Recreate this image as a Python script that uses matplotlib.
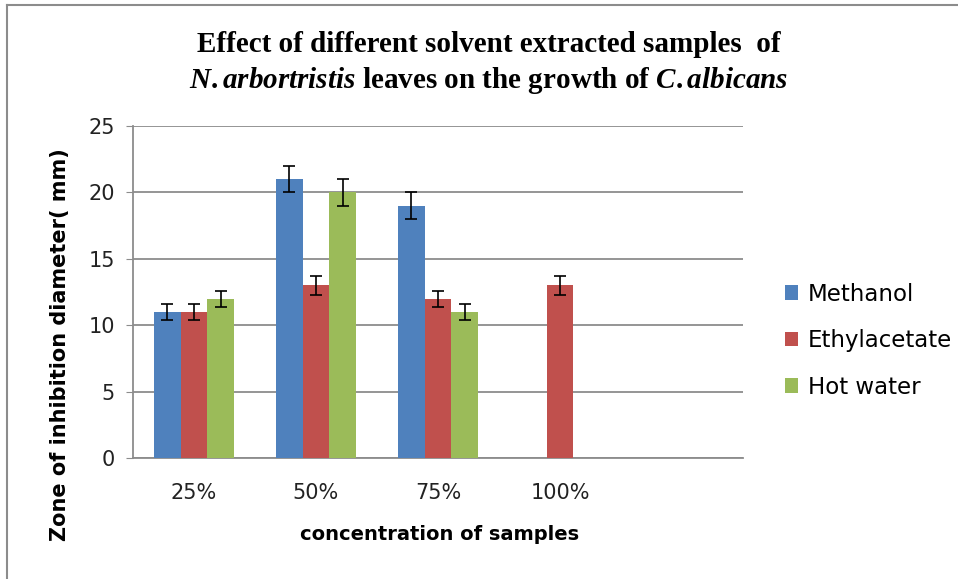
import numpy as np
import matplotlib
matplotlib.use("Agg")
import matplotlib.pyplot as plt
from matplotlib.lines import Line2D

categories = ["25%", "50%", "75%", "100%", ""]
series_names = ["Methanol", "Ethylacetate", "Hot water"]
methanol = [11, 21, 19, np.nan, np.nan]
ethylacetate = [11, 13, 12, 13, np.nan]
hot_water = [12, 20, 11, np.nan, np.nan]
methanol_err = [0.6, 1.0, 1.0, 0, 0]
ethylacetate_err = [0.6, 0.7, 0.6, 0.7, 0]
hot_water_err = [0.6, 1.0, 0.6, 0, 0]
yticks = [0, 5, 10, 15, 20, 25]

colors = ["#4F81BD", "#C0504D", "#9BBB59"]

plt.rcParams["mathtext.fontset"] = "custom"
plt.rcParams["mathtext.it"] = "Liberation Serif:bold:italic"
plt.rcParams["mathtext.rm"] = "Liberation Serif:bold"

W, H = 958, 579
fig = plt.figure(figsize=(W / 100, H / 100), dpi=100)
ax = fig.add_axes([133 / W, 1 - 458 / H, (743 - 133) / W, (458 - 126) / H])

x = np.arange(len(categories))
bw = 0.221
vals = [methanol, ethylacetate, hot_water]
errs = [methanol_err, ethylacetate_err, hot_water_err]
for i, (v, e, c, n) in enumerate(zip(vals, errs, colors, series_names)):
    v = np.array(v, dtype=float)
    e = np.array(e, dtype=float)
    pos = x + (i - 1) * bw
    ax.bar(pos, v, width=bw, color=c, label=n, zorder=3, edgecolor="none")
    m = ~np.isnan(v)
    ax.errorbar(pos[m], v[m], yerr=e[m], fmt="none", ecolor="black",
                elinewidth=1.2, capsize=4, capthick=1.2, zorder=4)

ax.set_xlim(-0.5, len(categories) - 0.5)
ax.set_ylim(0, 25)
ax.set_yticks(yticks)
ax.set_xticks(x)
ax.set_xticklabels(categories, fontsize=15, color="#222222")
ax.set_yticklabels([str(t) for t in yticks], fontsize=15, color="#222222")
ax.grid(axis="y", color="#8C8C8C", linewidth=1.3, zorder=0)
for s in ["top", "right"]:
    ax.spines[s].set_visible(False)
for s in ["left", "bottom"]:
    ax.spines[s].set_color("#8C8C8C")
    ax.spines[s].set_linewidth(1.3)
ax.tick_params(axis="y", length=5, color="#8C8C8C", pad=8)
ax.tick_params(axis="x", length=0, pad=18)

fig.text(60 / W, 1 - 345 / H, "Zone of inhibition diameter( mm)", rotation=90,
         ha="center", va="center", fontsize=15, fontweight="bold")
fig.text(440 / W, 1 - 535 / H, "concentration of samples",
         ha="center", va="center", fontsize=14, fontweight="bold")

serif = "Liberation Serif"
fig.text(489 / W, 1 - 45 / H, "Effect of different solvent extracted samples  of",
         ha="center", va="center", fontsize=21, fontweight="bold", family=serif)
fig.text(489 / W, 1 - 80 / H,
         r"$\mathit{N.arbortristis}$ leaves on the growth of $\mathit{C.albicans}$",
         ha="center", va="center", fontsize=21, fontweight="bold", family=serif)

leg = fig.legend(loc="upper left", bbox_to_anchor=(764 / W, 1 - 262 / H),
                 frameon=False, fontsize=16.5, handlelength=0.6, handleheight=0.6,
                 handletextpad=0.4, labelspacing=1.03)

fig.add_artist(Line2D([7 / W, 7 / W], [0, 1 - 5 / H], color="#8C8C8C", linewidth=1.5))
fig.add_artist(Line2D([7 / W, 1], [1 - 5 / H, 1 - 5 / H], color="#8C8C8C", linewidth=1.5))

fig.savefig("out.png", dpi=100)
